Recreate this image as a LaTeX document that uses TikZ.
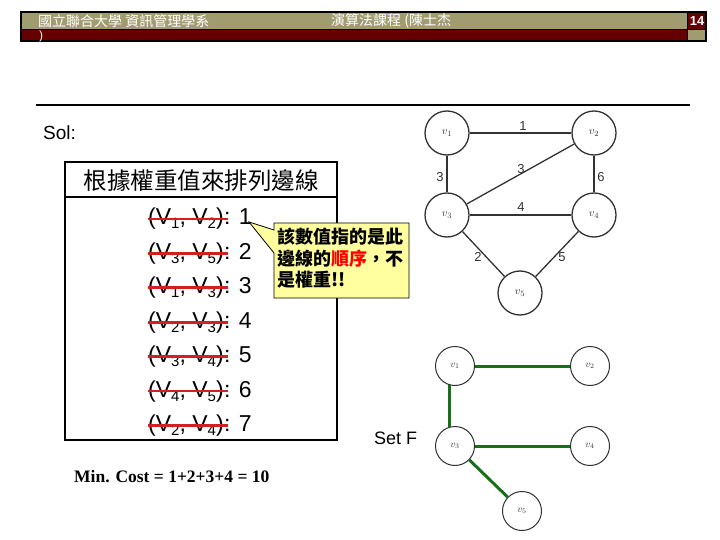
\documentclass[tikz,border=0pt]{standalone}
\usepackage{fontspec}
\setmainfont{Liberation Sans}
\newfontfamily\cjk{Noto Sans CJK TC}
\newfontfamily\timesfont{Liberation Serif}
\usetikzlibrary{calc}
\definecolor{hgold}{RGB}{160,156,112}
\definecolor{hred}{RGB}{102,0,0}
\definecolor{callyellow}{RGB}{255,255,160}
\definecolor{strikered}{RGB}{208,32,32}
\definecolor{treegreen}{RGB}{25,110,25}
\definecolor{graphgray}{RGB}{50,50,50}
\newcommand\vsb[1]{\raisebox{-4pt}{\fontsize{15}{15}\selectfont #1}}
\tikzset{
  hdrtxt/.style={text=white, inner sep=0, anchor=west, font=\cjk\fontsize{14}{15}\selectfont},
  listtxt/.style={inner sep=0, anchor=base west, font=\fontsize{23}{26}\selectfont},
  strikeline/.style={strikered, line width=2.8},
  gnode/.style={circle, draw=graphgray, line width=1.3, minimum size=44, inner sep=0, font=\fontsize{11}{11}\selectfont, text=graphgray},
  tnode/.style={circle, draw=graphgray, line width=1.0, minimum size=39, inner sep=0, font=\fontsize{10}{10}\selectfont, text=graphgray},
  gedge/.style={graphgray, line width=1.3},
  tedge/.style={treegreen, line width=3},
  elabel/.style={inner sep=0, text=graphgray, font=\fontsize{13}{13}\selectfont},
}
\begin{document}
\begin{tikzpicture}[x=1pt,y=-1pt]
\useasboundingbox (0,0) rectangle (720,540);
% header
\fill[hgold] (21,12) rectangle (687,30);
\fill[hred] (21,30) rectangle (687,41);
\fill[hred] (687,12) rectangle (706,30);
\fill[hgold] (687,30) rectangle (706,41);
\draw[line width=1] (21,30) -- (706,30);
\draw[line width=1] (687,12) -- (687,41);
\draw[line width=1.6] (21,12) rectangle (706,41);
\node[hdrtxt] (school) at (38,21) {國立聯合大學 資訊管理學系};
\node[hdrtxt] (course) at (331,21) {演算法課程 (陳士杰};
\node[hdrtxt, font=\fontsize{12}{12}\selectfont] (paren) at (39,36) {)};
\node[text=white, inner sep=0, font=\bfseries\fontsize{13}{14}\selectfont] (pageno) at (697,21) {14};
% rule
\draw[line width=2] (36,105) -- (690,105);
\node[inner sep=0, anchor=base west, font=\fontsize{19}{20}\selectfont] (sol) at (43,140) {Sol:};
% list box
\draw[line width=2] (65,162) rectangle (337,440);
\draw[line width=1.5] (65,197) -- (337,197);
\node[inner sep=0, font=\cjk\fontsize{23.5}{25}\selectfont] (title) at (201,181) {根據權重值來排列邊線};
\foreach \a/\b/\w [count=\i] in {1/2/1,3/5/2,1/3/3,2/3/4,3/4/5,4/5/6,2/4/7} {
  \pgfmathsetmacro\yy{225+(\i-1)*34.4}
  \node[listtxt] (p\i) at (148,\yy) {(V\vsb{\a}, V\vsb{\b})};
  \node[listtxt] (n\i) at (p\i.base east) {: \w};
  \draw[strikeline] ($(p\i.base west)+(0,-6)$) -- ($(p\i.base east)+(4,-6)$);
}
% callout
\coordinate (tip) at (249,222);
\filldraw[fill=callyellow, draw=black, line width=0.8] (274,223) -- (409,223) -- (409,298) -- (274,298) -- (274,253) -- (tip) -- (274,230) -- cycle;
\node[anchor=north west, align=left, inner sep=0, font=\cjk\bfseries\fontsize{18}{21.5}\selectfont] (note) at (277,228) {該數值指的是此\\邊線的\textcolor{red}{順序}，不\\是權重!!};
% top graph
\node[gnode] (g1) at (447,133) {$v_1$};
\node[gnode] (g2) at (594,133) {$v_2$};
\node[gnode] (g3) at (447,215) {$v_3$};
\node[gnode] (g4) at (594,215) {$v_4$};
\node[gnode] (g5) at (520,293) {$v_5$};
\draw[gedge] (g1) -- (g2);
\draw[gedge] (g1) -- (g3);
\draw[gedge] (g3) -- (g2);
\draw[gedge] (g2) -- (g4);
\draw[gedge] (g3) -- (g4);
\draw[gedge] (g3) -- (g5);
\draw[gedge] (g4) -- (g5);
\node[elabel] (l12) at (523,126) {1};
\node[elabel] (l13) at (440,177) {3};
\node[elabel] (l23) at (521,169) {3};
\node[elabel] (l24) at (601,177) {6};
\node[elabel] (l34) at (521,207) {4};
\node[elabel] (l35) at (478,257) {2};
\node[elabel] (l45) at (562,257) {5};
% tree
\node[tnode] (t1) at (455,366) {$v_1$};
\node[tnode] (t2) at (590,366) {$v_2$};
\node[tnode] (t3) at (455,446) {$v_3$};
\node[tnode] (t4) at (590,446) {$v_4$};
\node[tnode] (t5) at (522,511) {$v_5$};
\draw[tedge] (t1) -- (t2);
\draw[tedge] (t1.255) -- (t3.105);
\draw[tedge] (t3) -- (t4);
\draw[tedge] (t3) -- (t5);
\node[inner sep=0, anchor=base west, font=\fontsize{18}{20}\selectfont] (setf) at (374,444) {Set F};
\node[inner sep=0, anchor=base west, font=\timesfont\bfseries\fontsize{17.5}{19}\selectfont] (cost) at (74,482) {Min. Cost = 1+2+3+4 = 10};
\end{tikzpicture}
\end{document}
